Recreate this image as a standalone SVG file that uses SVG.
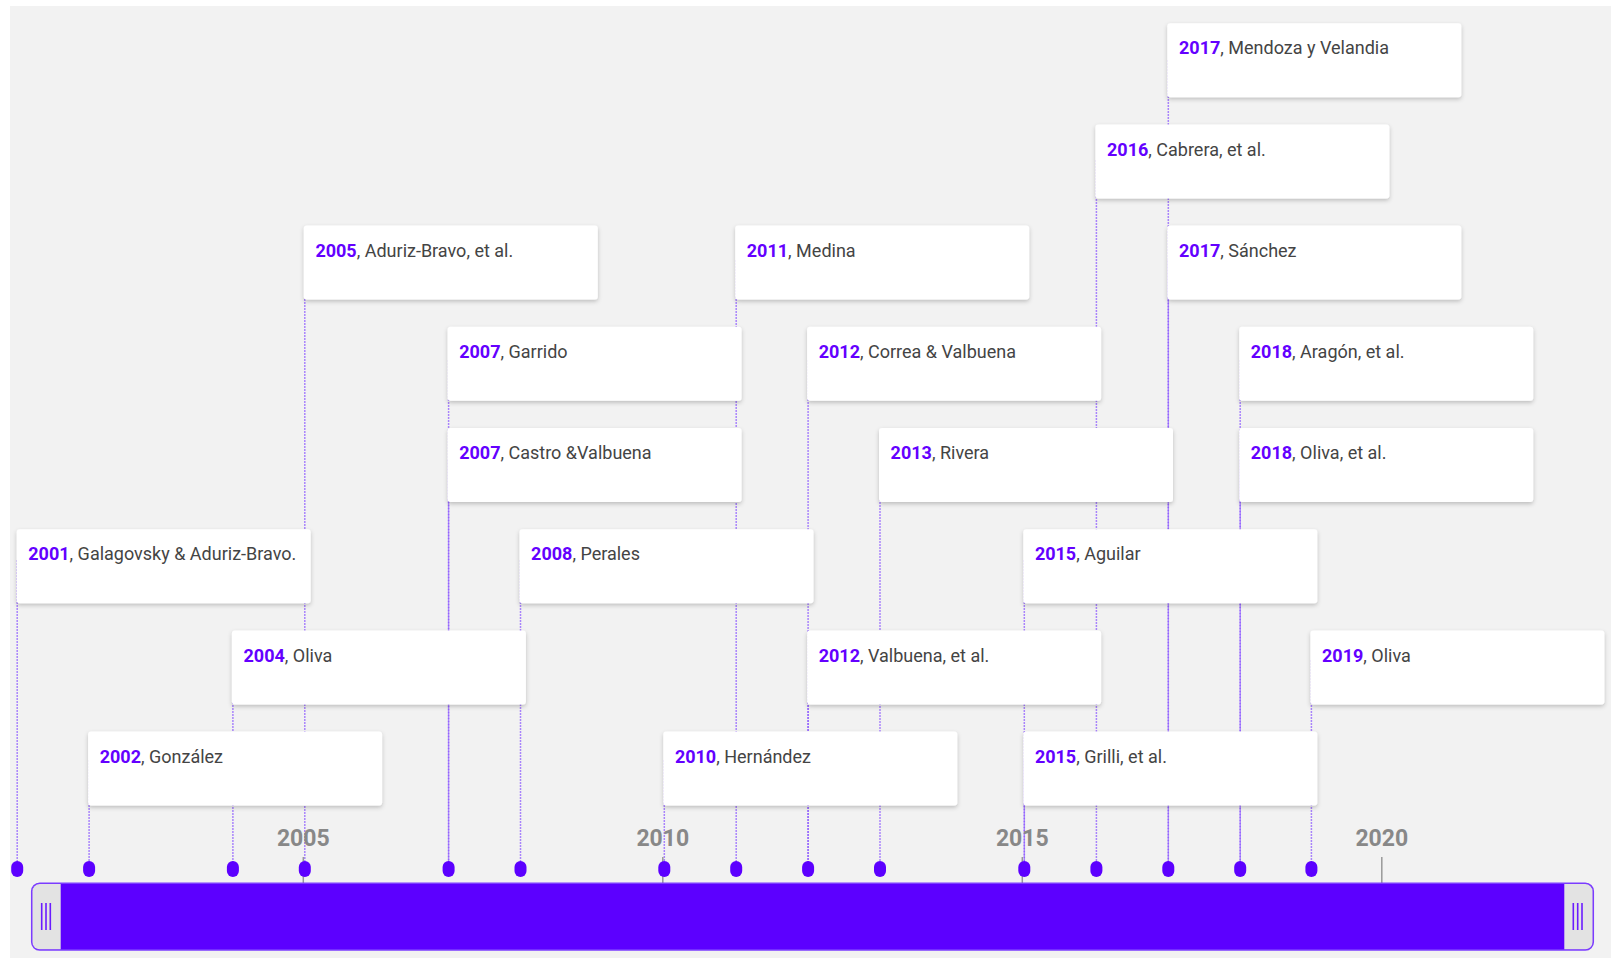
<svg xmlns="http://www.w3.org/2000/svg" width="1611" height="958" viewBox="0 0 1611 958">
<defs>
<filter id="sh" x="-5%" y="-20%" width="110%" height="150%">
<feDropShadow dx="0" dy="2" stdDeviation="2.2" flood-color="#000" flood-opacity="0.22"/>
</filter>
<style>
.card{fill:#fff;filter:url(#sh)}
.t{font-family:Roboto,"Liberation Sans",sans-serif;font-size:18px;fill:#444}
.y{font-weight:bold;fill:#6400ff}
.ln{stroke:#8a55ff;stroke-width:1.5;stroke-dasharray:2 1;opacity:0.7;fill:none}
.dot{fill:#5c00ff}
.tick{stroke:#999;stroke-width:1.5}
.ax{font-family:Roboto,"Liberation Sans",sans-serif;font-size:23px;font-weight:bold;fill:#888;text-anchor:middle}
.grip{stroke:#6a1cff;stroke-width:1.6}
</style>
</defs>
<rect x="0" y="0" width="1611" height="958" fill="#fff"/>
<rect x="10" y="6" width="1601" height="952" fill="#f2f2f2"/>

<g id="connectors">
<line class="ln" x1="1168.3" y1="60" x2="1168.3" y2="869"/>
<line class="ln" x1="1096.4" y1="160" x2="1096.4" y2="869"/>
<line class="ln" x1="304.8" y1="260" x2="304.8" y2="869"/>
<line class="ln" x1="736.2" y1="260" x2="736.2" y2="869"/>
<line class="ln" x1="1168.3" y1="260" x2="1168.3" y2="869"/>
<line class="ln" x1="448.6" y1="360" x2="448.6" y2="869"/>
<line class="ln" x1="808.1" y1="360" x2="808.1" y2="869"/>
<line class="ln" x1="1240.2" y1="360" x2="1240.2" y2="869"/>
<line class="ln" x1="448.6" y1="460" x2="448.6" y2="869"/>
<line class="ln" x1="880" y1="460" x2="880" y2="869"/>
<line class="ln" x1="1240.2" y1="460" x2="1240.2" y2="869"/>
<line class="ln" x1="17.2" y1="560" x2="17.2" y2="869"/>
<line class="ln" x1="520.5" y1="560" x2="520.5" y2="869"/>
<line class="ln" x1="1024.3" y1="560" x2="1024.3" y2="869"/>
<line class="ln" x1="232.9" y1="660" x2="232.9" y2="869"/>
<line class="ln" x1="808.1" y1="660" x2="808.1" y2="869"/>
<line class="ln" x1="1311.4" y1="660" x2="1311.4" y2="869"/>
<line class="ln" x1="89.1" y1="760" x2="89.1" y2="869"/>
<line class="ln" x1="664.3" y1="760" x2="664.3" y2="869"/>
<line class="ln" x1="1024.3" y1="760" x2="1024.3" y2="869"/>
</g>

<g id="axis">
<line class="tick" x1="303.3" y1="857" x2="303.3" y2="884"/>
<line class="tick" x1="662.8" y1="857" x2="662.8" y2="884"/>
<line class="tick" x1="1022.3" y1="857" x2="1022.3" y2="884"/>
<line class="tick" x1="1381.8" y1="857" x2="1381.8" y2="884"/>
<text class="ax" x="303.3" y="846">2005</text>
<text class="ax" x="662.8" y="846">2010</text>
<text class="ax" x="1022.3" y="846">2015</text>
<text class="ax" x="1381.8" y="846">2020</text>
<rect x="31.7" y="883.3" width="1561.6" height="66.7" rx="8" fill="#5c00ff" stroke="#7b3cff" stroke-width="1.5"/>
<path d="M60.7,884 H39.7 A7.3,7.3 0 0 0 32.4,891.3 V942 A7.3,7.3 0 0 0 39.7,949.3 H60.7 Z" fill="#e3e3e3"/>
<path d="M1564.3,884 H1585.3 A7.3,7.3 0 0 1 1592.6,891.3 V942 A7.3,7.3 0 0 1 1585.3,949.3 H1564.3 Z" fill="#e3e3e3"/>
<line class="grip" x1="41.7" y1="903" x2="41.7" y2="930"/>
<line class="grip" x1="46" y1="903" x2="46" y2="930"/>
<line class="grip" x1="50.3" y1="903" x2="50.3" y2="930"/>
<line class="grip" x1="1573.3" y1="903" x2="1573.3" y2="930"/>
<line class="grip" x1="1577.7" y1="903" x2="1577.7" y2="930"/>
<line class="grip" x1="1582" y1="903" x2="1582" y2="930"/>
</g>

<g id="dots">
<rect class="dot" x="11.2" y="861" width="12" height="16" rx="6"/>
<rect class="dot" x="83.1" y="861" width="12" height="16" rx="6"/>
<rect class="dot" x="226.9" y="861" width="12" height="16" rx="6"/>
<rect class="dot" x="298.8" y="861" width="12" height="16" rx="6"/>
<rect class="dot" x="442.6" y="861" width="12" height="16" rx="6"/>
<rect class="dot" x="514.5" y="861" width="12" height="16" rx="6"/>
<rect class="dot" x="658.3" y="861" width="12" height="16" rx="6"/>
<rect class="dot" x="730.2" y="861" width="12" height="16" rx="6"/>
<rect class="dot" x="802.1" y="861" width="12" height="16" rx="6"/>
<rect class="dot" x="874" y="861" width="12" height="16" rx="6"/>
<rect class="dot" x="1018.3" y="861" width="12" height="16" rx="6"/>
<rect class="dot" x="1090.4" y="861" width="12" height="16" rx="6"/>
<rect class="dot" x="1162.3" y="861" width="12" height="16" rx="6"/>
<rect class="dot" x="1234.2" y="861" width="12" height="16" rx="6"/>
<rect class="dot" x="1305.4" y="861" width="12" height="16" rx="6"/>
</g>

<g id="n2017a"><rect class="card" x="1167.3" y="23.2" width="294" height="74" rx="3"/><text class="t" x="1179" y="54.4"><tspan class="y">2017</tspan>, Mendoza y Velandia</text></g>
<g id="n2016"><rect class="card" x="1095.4" y="124.4" width="294" height="74" rx="3"/><text class="t" x="1107" y="155.6"><tspan class="y">2016</tspan>, Cabrera, et al.</text></g>
<g id="n2005"><rect class="card" x="303.8" y="225.6" width="294" height="74" rx="3"/><text class="t" x="315.4" y="256.8"><tspan class="y">2005</tspan>, Aduriz-Bravo, et al.</text></g>
<g id="n2011"><rect class="card" x="735.2" y="225.6" width="294" height="74" rx="3"/><text class="t" x="746.8" y="256.8"><tspan class="y">2011</tspan>, Medina</text></g>
<g id="n2017b"><rect class="card" x="1167.3" y="225.6" width="294" height="74" rx="3"/><text class="t" x="1179" y="256.8"><tspan class="y">2017</tspan>, Sánchez</text></g>
<g id="n2007a"><rect class="card" x="447.6" y="326.8" width="294" height="74" rx="3"/><text class="t" x="459.2" y="358"><tspan class="y">2007</tspan>, Garrido</text></g>
<g id="n2012a"><rect class="card" x="807.1" y="326.8" width="294" height="74" rx="3"/><text class="t" x="818.7" y="358"><tspan class="y">2012</tspan>, Correa &amp; Valbuena</text></g>
<g id="n2018a"><rect class="card" x="1239.2" y="326.8" width="294" height="74" rx="3"/><text class="t" x="1250.8" y="358"><tspan class="y">2018</tspan>, Aragón, et al.</text></g>
<g id="n2007b"><rect class="card" x="447.6" y="428" width="294" height="74" rx="3"/><text class="t" x="459.2" y="459.2"><tspan class="y">2007</tspan>, Castro &amp;Valbuena</text></g>
<g id="n2013"><rect class="card" x="879" y="428" width="294" height="74" rx="3"/><text class="t" x="890.6" y="459.2"><tspan class="y">2013</tspan>, Rivera</text></g>
<g id="n2018b"><rect class="card" x="1239.2" y="428" width="294" height="74" rx="3"/><text class="t" x="1250.8" y="459.2"><tspan class="y">2018</tspan>, Oliva, et al.</text></g>
<g id="n2001"><rect class="card" x="16.7" y="529.2" width="294" height="74" rx="3"/><text class="t" x="28.3" y="560.4"><tspan class="y">2001</tspan>, Galagovsky &amp; Aduriz-Bravo.</text></g>
<g id="n2008"><rect class="card" x="519.5" y="529.2" width="294" height="74" rx="3"/><text class="t" x="531.1" y="560.4"><tspan class="y">2008</tspan>, Perales</text></g>
<g id="n2015a"><rect class="card" x="1023.3" y="529.2" width="294" height="74" rx="3"/><text class="t" x="1034.9" y="560.4"><tspan class="y">2015</tspan>, Aguilar</text></g>
<g id="n2004"><rect class="card" x="231.9" y="630.4" width="294" height="74" rx="3"/><text class="t" x="243.5" y="661.6"><tspan class="y">2004</tspan>, Oliva</text></g>
<g id="n2012b"><rect class="card" x="807.1" y="630.4" width="294" height="74" rx="3"/><text class="t" x="818.7" y="661.6"><tspan class="y">2012</tspan>, Valbuena, et al.</text></g>
<g id="n2019"><rect class="card" x="1310.4" y="630.4" width="294" height="74" rx="3"/><text class="t" x="1322" y="661.6"><tspan class="y">2019</tspan>, Oliva</text></g>
<g id="n2002"><rect class="card" x="88.1" y="731.6" width="294" height="74" rx="3"/><text class="t" x="99.7" y="762.8"><tspan class="y">2002</tspan>, González</text></g>
<g id="n2010"><rect class="card" x="663.3" y="731.6" width="294" height="74" rx="3"/><text class="t" x="674.9" y="762.8"><tspan class="y">2010</tspan>, Hernández</text></g>
<g id="n2015b"><rect class="card" x="1023.3" y="731.6" width="294" height="74" rx="3"/><text class="t" x="1034.9" y="762.8"><tspan class="y">2015</tspan>, Grilli, et al.</text></g>
</svg>
